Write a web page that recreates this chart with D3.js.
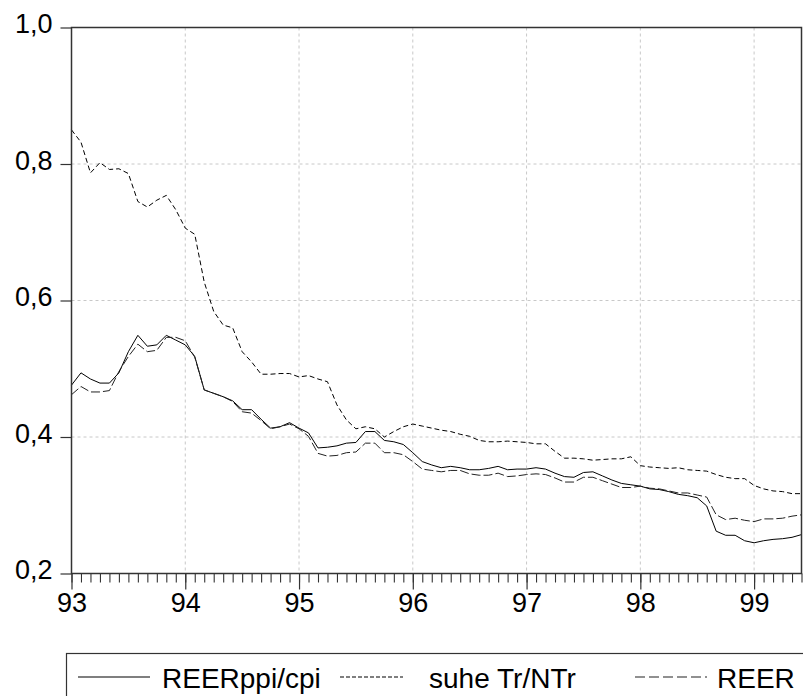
<!DOCTYPE html>
<html>
<head>
<meta charset="utf-8">
<script src="https://cdn.jsdelivr.net/npm/d3@7"></script>
<style>
  html, body { margin: 0; padding: 0; background: #fff; }
  svg { display: block; font-family: "Liberation Sans", Arial, sans-serif; }
</style>
</head>
<body>
<svg id="chart" width="803" height="696"></svg>
<script>
// Monthly series, 1993M01 - 1999M06
const startYear = 93;
const yearTicks = [93, 94, 95, 96, 97, 98, 99];
const yTicks = [0.2, 0.4, 0.6, 0.8, 1.0];
const seriesNames = ["REERppi/cpi", "suhe Tr/NTr", "REER"];

const reerPpiCpi = [
  0.476, 0.494, 0.485, 0.479, 0.479, 0.494, 0.525, 0.549, 0.533, 0.535, 0.549, 0.542,
  0.535, 0.518, 0.469, 0.464, 0.459, 0.453, 0.440, 0.440, 0.426, 0.413, 0.415, 0.421,
  0.413, 0.406, 0.384, 0.385, 0.387, 0.391, 0.392, 0.408, 0.408, 0.395, 0.393, 0.389,
  0.377, 0.364, 0.359, 0.355, 0.357, 0.355, 0.352, 0.352, 0.354, 0.357, 0.352, 0.353,
  0.353, 0.355, 0.353, 0.347, 0.342, 0.341, 0.348, 0.349, 0.343, 0.337, 0.332, 0.330,
  0.328, 0.324, 0.323, 0.320, 0.316, 0.314, 0.311, 0.299, 0.262, 0.256, 0.256, 0.248,
  0.245, 0.248, 0.250, 0.251, 0.253, 0.257
];

const suheTrNTr = [
  0.850, 0.832, 0.787, 0.802, 0.792, 0.793, 0.786, 0.745, 0.737, 0.747, 0.754, 0.733,
  0.706, 0.697, 0.627, 0.584, 0.564, 0.560, 0.525, 0.510, 0.492, 0.492, 0.493, 0.493,
  0.488, 0.490, 0.485, 0.481, 0.447, 0.425, 0.412, 0.415, 0.412, 0.400, 0.408, 0.415,
  0.419, 0.416, 0.413, 0.410, 0.408, 0.404, 0.401, 0.395, 0.393, 0.393, 0.394, 0.393,
  0.392, 0.390, 0.390, 0.379, 0.369, 0.369, 0.368, 0.366, 0.367, 0.368, 0.368, 0.371,
  0.358, 0.356, 0.355, 0.354, 0.355, 0.352, 0.351, 0.350, 0.345, 0.341, 0.339, 0.339,
  0.329, 0.324, 0.321, 0.320, 0.317, 0.317
];

const reer = [
  0.462, 0.474, 0.466, 0.466, 0.468, 0.496, 0.518, 0.536, 0.525, 0.527, 0.546, 0.546,
  0.541, 0.517, 0.469, 0.464, 0.459, 0.452, 0.437, 0.435, 0.424, 0.412, 0.415, 0.419,
  0.412, 0.401, 0.376, 0.372, 0.373, 0.377, 0.378, 0.391, 0.391, 0.377, 0.377, 0.374,
  0.364, 0.353, 0.351, 0.349, 0.351, 0.351, 0.346, 0.344, 0.344, 0.347, 0.342, 0.343,
  0.345, 0.346, 0.345, 0.340, 0.334, 0.334, 0.341, 0.341, 0.336, 0.331, 0.326, 0.326,
  0.328, 0.325, 0.324, 0.321, 0.318, 0.318, 0.315, 0.312, 0.286, 0.279, 0.281, 0.278,
  0.276, 0.280, 0.280, 0.281, 0.284, 0.286
];

const svg = d3.select("#chart");
const plotLeft = 71.5, plotRight = 801.5, plotTop = 27.5, plotBottom = 573.5;
const nObs = reerPpiCpi.length;
const t = i => startYear + i / 12;

const x = d3.scaleLinear().domain([startYear, t(nObs - 1)]).range([plotLeft, plotRight]);
const y = d3.scaleLinear().domain([0.2, 1.0]).range([plotBottom, plotTop]);

const axisColor = "#333";
const fontSize = 27;

// grid
const grid = svg.append("g").attr("stroke", "#c8c8c8").attr("stroke-width", 1)
  .attr("stroke-dasharray", "3,3").attr("fill", "none");
yTicks.filter(v => v > 0.2 && v < 1.0).forEach(v => {
  grid.append("line").attr("x1", plotLeft).attr("x2", plotRight).attr("y1", y(v)).attr("y2", y(v));
});
yearTicks.filter(v => v > startYear).forEach(v => {
  grid.append("line").attr("x1", x(v)).attr("x2", x(v)).attr("y1", plotTop).attr("y2", plotBottom);
});

// series
const line = d3.line().x((d, i) => x(t(i))).y(d => y(d));
const styles = [
  { data: reerPpiCpi, dash: null, color: "#000" },
  { data: suheTrNTr, dash: "5,3", color: "#000" },
  { data: reer, dash: "9,3", color: "#222" }
];
styles.forEach(s => {
  svg.append("path").datum(s.data).attr("d", line)
    .attr("fill", "none").attr("stroke", s.color).attr("stroke-width", 1)
    .attr("stroke-dasharray", s.dash);
});

// frame
svg.append("rect").attr("x", plotLeft).attr("y", plotTop)
  .attr("width", plotRight - plotLeft).attr("height", plotBottom - plotTop)
  .attr("fill", "none").attr("stroke", axisColor).attr("stroke-width", 1.5);

// y axis
const fmt = d3.format(".1f");
const yAxis = svg.append("g").attr("transform", `translate(${plotLeft},0)`)
  .call(d3.axisLeft(y).tickValues(yTicks).tickSize(11).tickPadding(8)
    .tickFormat(d => fmt(d).replace(".", ",")));
yAxis.select(".domain").remove();
yAxis.selectAll("line").attr("stroke", axisColor).attr("stroke-width", 1.2);
yAxis.selectAll("text").attr("font-size", fontSize).attr("fill", "#000")
  .attr("font-family", "Liberation Sans, Arial, sans-serif").attr("dy", "0.2em");

// x axis: monthly minor ticks, yearly labels
const months = d3.range(0, nObs).map(t);
const xMinor = svg.append("g").attr("transform", `translate(0,${plotBottom})`)
  .call(d3.axisBottom(x).tickValues(months).tickSize(9).tickFormat(""));
xMinor.select(".domain").remove();
xMinor.selectAll("line").attr("stroke", axisColor).attr("stroke-width", 1.1);

const xMajor = svg.append("g").attr("transform", `translate(0,${plotBottom})`)
  .call(d3.axisBottom(x).tickValues(yearTicks).tickSize(16).tickPadding(3)
    .tickFormat(d3.format("d")));
xMajor.select(".domain").remove();
xMajor.selectAll("line").attr("stroke", axisColor).attr("stroke-width", 1.2);
xMajor.selectAll("text").attr("font-size", fontSize).attr("fill", "#000")
  .attr("font-family", "Liberation Sans, Arial, sans-serif");

// legend
const legend = svg.append("g");
legend.append("rect").attr("x", 66.5).attr("y", 653.5).attr("width", 760).attr("height", 60)
  .attr("fill", "#fff").attr("stroke", axisColor).attr("stroke-width", 1.2);
const legendItems = [
  { x1: 78, x2: 150, tx: 162 },
  { x1: 340, x2: 403, tx: 429 },
  { x1: 635, x2: 707, tx: 717 }
];
legendItems.forEach((it, k) => {
  legend.append("line").attr("x1", it.x1).attr("x2", it.x2).attr("y1", 677).attr("y2", 677)
    .attr("stroke", styles[k].color).attr("stroke-width", 1.1)
    .attr("stroke-dasharray", k === 1 ? "4,2" : (k === 2 ? "10,4" : null));
  legend.append("text").attr("x", it.tx).attr("y", 688).attr("font-size", 28)
    .attr("fill", "#000").text(seriesNames[k]);
});
</script>
</body>
</html>
